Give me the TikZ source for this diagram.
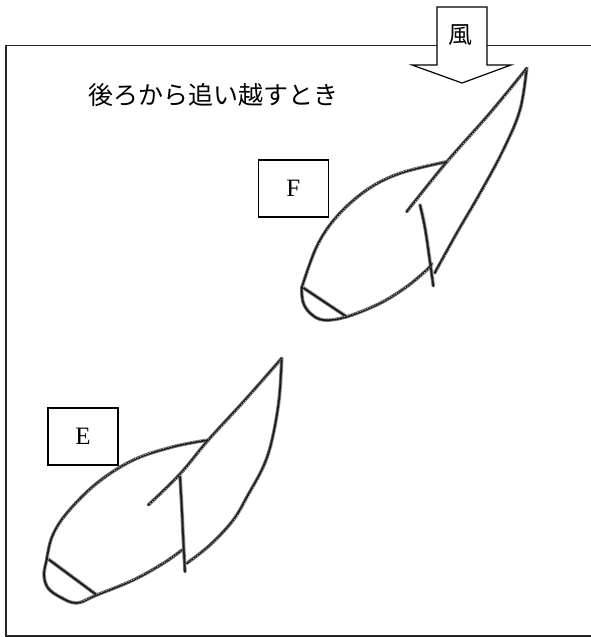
\documentclass[tikz,border=0pt]{standalone}
\usepackage{fontspec}
\newfontfamily\jpfont{Noto Sans CJK JP}
\setmainfont{Liberation Serif}
\tikzset{
  frameline/.style={line width=1.5pt, black!85},
  windarrow/.style={draw=black, fill=white, line width=1.2pt},
  labelbox/.style={draw=black, line width=1.2pt, minimum width=70pt, minimum height=57pt, inner sep=0pt, font=\fontsize{25}{25}\selectfont},
  sketch/.style={line width=3.4pt, black!55, line cap=round, line join=round},
  sketchb/.style={line width=1.6pt, black!90, line cap=round, line join=round},
  sketchc/.style={line width=0.7pt, gray!45, line cap=round, dash pattern=on 0.6pt off 2.1pt, shift={(1.9pt,1.3pt)}},
}
\begin{document}
\begin{tikzpicture}[x=1pt, y=-1pt]
\useasboundingbox (0,0) rectangle (591,637);
% frame (open on the right)
\draw[frameline] (600,45.5) -- (6,45.5) -- (6,636) -- (600,636);
% wind arrow
\draw[windarrow] (437,7) -- (487,7) -- (487,65) -- (511,65) -- (462,83) -- (412,65) -- (437,65) -- cycle;
\node[font=\jpfont\fontsize{24}{24}\selectfont] (wind) at (460,35) {風};
% title
\node[font=\jpfont\fontsize{25}{25}\selectfont] (title) at (213,95) {後ろから追い越すとき};
% label boxes
\node[labelbox] (F) at (293.3,188.5) {F};
\node[labelbox] (E) at (83,436.5) {E};
% boat F
\foreach \s in {sketch,sketchb,sketchc}{
\draw[\s] plot[smooth, tension=0.6] coordinates {(301.7,288) (316.7,246.7) (336.7,216.7) (366.7,190) (400,173.3) (446.7,161.7)};
\draw[\s] plot[smooth, tension=0.6] coordinates {(406.7,211.7) (446.7,162) (490,113) (526.7,68.3)};
\draw[\s] plot[smooth, tension=0.6] coordinates {(526.7,68.3) (520,110) (503.3,150) (480,193.3) (456.7,233.3) (434.7,273)};
\draw[\s] plot[smooth, tension=0.6] coordinates {(420,205) (425,228) (430,262) (433.3,286)};
\draw[\s] plot[smooth, tension=0.6] coordinates {(301.7,288) (303,302) (310,313) (323.3,320) (346.7,316.7) (380,303.3) (406.7,286.7) (426.7,270) (432,264)};
\draw[\s] (302,287) -- (347,317);
}
% boat E
\foreach \s in {sketch,sketchb,sketchc}{
\draw[\s] plot[smooth, tension=0.6] coordinates {(46.7,560) (52,537) (66.7,513.3) (96.7,483.3) (133.3,460) (173.3,446.7) (208.3,440)};
\draw[\s] plot[smooth, tension=0.6] coordinates {(148.3,505) (180,474) (208.3,440) (245,400) (281.7,358.3)};
\draw[\s] plot[smooth, tension=0.6] coordinates {(281.7,358.3) (279,400) (272,440) (263.3,466.7) (248,495) (233.3,520) (210,545) (186.7,563.3)};
\draw[\s] plot[smooth, tension=0.6] coordinates {(180,476.7) (181.7,506.7) (183.3,540) (185,571.7)};
\draw[\s] plot[smooth, tension=0.6] coordinates {(46.7,560) (44,575) (48,588) (60,597) (76.7,603) (96.7,595) (133.3,580) (163.3,563.3) (182,550)};
\draw[\s] (46.7,558) -- (96.7,595);
}
\end{tikzpicture}
\end{document}
